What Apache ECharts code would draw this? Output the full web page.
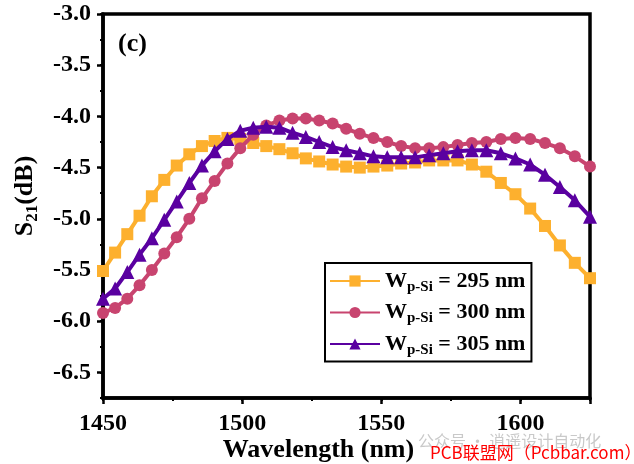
<!DOCTYPE html>
<html><head><meta charset="utf-8">
<script src="https://cdn.jsdelivr.net/npm/echarts@6/dist/echarts.min.js"></script>
<style>html,body{margin:0;padding:0;background:#fff}#c{width:634px;height:464px}</style>
</head><body><div id="c"></div>
<script>
// Wavelength sample points (nm)
const wavelength = [1450.00, 1454.35, 1458.73, 1463.13, 1467.56, 1472.02, 1476.50, 1481.01, 1485.55, 1490.12,
  1494.71, 1499.33, 1503.99, 1508.67, 1513.38, 1518.12, 1522.89, 1527.69, 1532.52, 1537.38,
  1542.27, 1547.19, 1552.15, 1557.14, 1562.15, 1567.20, 1572.29, 1577.40, 1582.56, 1587.74,
  1592.96, 1598.21, 1603.50, 1608.82, 1614.18, 1619.55, 1625.00];
// S21 (dB) for W_p-Si = 295 nm
const s295 = [-5.51, -5.33, -5.15, -4.97, -4.78, -4.62, -4.48, -4.37, -4.29, -4.24,
  -4.21, -4.22, -4.26, -4.29, -4.32, -4.36, -4.41, -4.44, -4.47, -4.49,
  -4.50, -4.49, -4.48, -4.46, -4.45, -4.43, -4.43, -4.43, -4.47, -4.54,
  -4.65, -4.76, -4.90, -5.07, -5.26, -5.43, -5.58];
// S21 (dB) for W_p-Si = 300 nm
const s300 = [-5.92, -5.87, -5.78, -5.65, -5.50, -5.34, -5.18, -5.00, -4.80, -4.63,
  -4.46, -4.31, -4.18, -4.09, -4.04, -4.02, -4.02, -4.04, -4.07, -4.12,
  -4.17, -4.21, -4.25, -4.29, -4.31, -4.31, -4.30, -4.28, -4.26, -4.25,
  -4.22, -4.21, -4.22, -4.26, -4.31, -4.39, -4.49];
// S21 (dB) for W_p-Si = 305 nm
const s305 = [-5.78, -5.68, -5.52, -5.35, -5.19, -5.01, -4.83, -4.65, -4.48, -4.34,
  -4.22, -4.14, -4.11, -4.10, -4.11, -4.16, -4.20, -4.25, -4.30, -4.33,
  -4.36, -4.39, -4.40, -4.40, -4.40, -4.38, -4.36, -4.34, -4.33, -4.33,
  -4.36, -4.41, -4.47, -4.57, -4.69, -4.82, -4.98];
const seriesNames = ['Wp-Si = 295 nm', 'Wp-Si = 300 nm', 'Wp-Si = 305 nm'];
const xMajorTicks = [1450, 1500, 1550, 1600];
const yMajorTicks = [-6.5, -6.0, -5.5, -5.0, -4.5, -4.0, -3.5, -3.0];

const FONT = "'Liberation Serif', 'Times New Roman', serif";
const colors = ['#FDB02E', '#C8446F', '#5A00A0'];
const symbols = ['rect', 'circle', 'triangle'];
const dataSets = [s295, s300, s305];

const chart = echarts.init(document.getElementById('c'), null, {renderer: 'canvas'});
const yMajorSet = new Set(yMajorTicks.map(v => v.toFixed(2)));
const xMajorSet = new Set(xMajorTicks);

const option = {
  animation: false,
  backgroundColor: '#fff',
  grid: {left: 103, right: 44, top: 14, bottom: 66, show: true, borderColor: '#000', borderWidth: 3.5,
    containLabel: false, outerBoundsMode: 'none'},
  xAxis: [{
    type: 'value', min: 1450, max: 1625, interval: 25,
    axisLine: {show: true, lineStyle: {color: '#000', width: 3.5}},
    axisTick: {show: true, length: 3, lineStyle: {color: '#000', width: 2}},
    splitLine: {show: false},
    axisLabel: {margin: 14, color: '#000', fontFamily: FONT, fontWeight: 'bold', fontSize: 24,
      formatter: v => xMajorSet.has(Math.round(v)) ? String(Math.round(v)) : ''},
    name: 'Wavelength (nm)', nameLocation: 'middle', nameGap: 39, nameMoveOverlap: false,
    nameTextStyle: {color: '#000', fontFamily: FONT, fontWeight: 'bold', fontSize: 26, padding: [0, 56, 0, 0]}
  }, {
    type: 'value', min: 1450, max: 1625, interval: 50, position: 'bottom',
    axisLine: {show: false}, splitLine: {show: false}, axisLabel: {show: false},
    axisTick: {show: true, length: 6, lineStyle: {color: '#000', width: 2.5}}
  }],
  yAxis: [{
    type: 'value', min: -6.75, max: -3.0, interval: 0.25,
    axisLine: {show: true, lineStyle: {color: '#000', width: 3.5}},
    axisTick: {show: true, length: 3, lineStyle: {color: '#000', width: 2}},
    splitLine: {show: false},
    axisLabel: {margin: 12, color: '#000', fontFamily: FONT, fontWeight: 'bold', fontSize: 24,
      formatter: v => yMajorSet.has(v.toFixed(2)) ? v.toFixed(1) : ''},
    name: 'S{sub|21}(dB)', nameLocation: 'middle', nameGap: 62, nameRotate: 90,
    nameTextStyle: {color: '#000', fontFamily: FONT, fontWeight: 'bold', fontSize: 26, padding: [0, 0, 0, 20],
      rich: {sub: {fontFamily: FONT, fontWeight: 'bold', fontSize: 17, color: '#000', padding: [14, 0, 0, 0]}}}
  }, {
    type: 'value', min: -6.75, max: -3.0, position: 'left',
    axisLine: {show: false}, splitLine: {show: false}, axisLabel: {show: false},
    axisTick: {show: true, length: 6, customValues: yMajorTicks, lineStyle: {color: '#000', width: 2.5}}
  }],
  legend: {
    left: 325, top: 263, orient: 'vertical', itemWidth: 50, itemHeight: 14, itemGap: 7,
    padding: [7, 6, 4, 4], borderColor: '#000', borderWidth: 2, backgroundColor: '#fff',
    data: seriesNames,
    formatter: name => '{w|W}{s|p-Si}{w| ' + name.replace('Wp-Si ', '') + '}',
    textStyle: {
      rich: {
        w: {fontFamily: FONT, fontWeight: 'bold', fontSize: 22, color: '#000'},
        s: {fontFamily: FONT, fontWeight: 'bold', fontSize: 15, color: '#000', padding: [12, 0, 0, 0]}
      }
    }
  },
  graphic: [
    {type: 'text', left: 118, top: 31, style: {text: '(c)', font: "bold 26px 'Liberation Serif', serif", fill: '#000'}},
    {type: 'text', left: 418, top: 433, style: {text: '公众号 · 逍遥设计自动化', font: "16px 'Noto Sans CJK SC', sans-serif", fill: '#c9c9c9'}},
    {type: 'text', left: 430, top: 444, style: {text: 'PCB联盟网（Pcbbar.com）', font: "17px 'Noto Sans CJK SC', sans-serif", fill: '#ff0000'}}
  ],
  series: dataSets.map((d, k) => ({
    type: 'line', name: seriesNames[k], xAxisIndex: 0, yAxisIndex: 0,
    data: wavelength.map((w, i) => [w, d[i]]),
    symbol: symbols[k], symbolSize: k === 2 ? 14 : 12,
    lineStyle: {color: colors[k], width: 4},
    itemStyle: {color: colors[k]},
    z: 2 + k
  }))
};
chart.setOption(option);
</script>
</body></html>
